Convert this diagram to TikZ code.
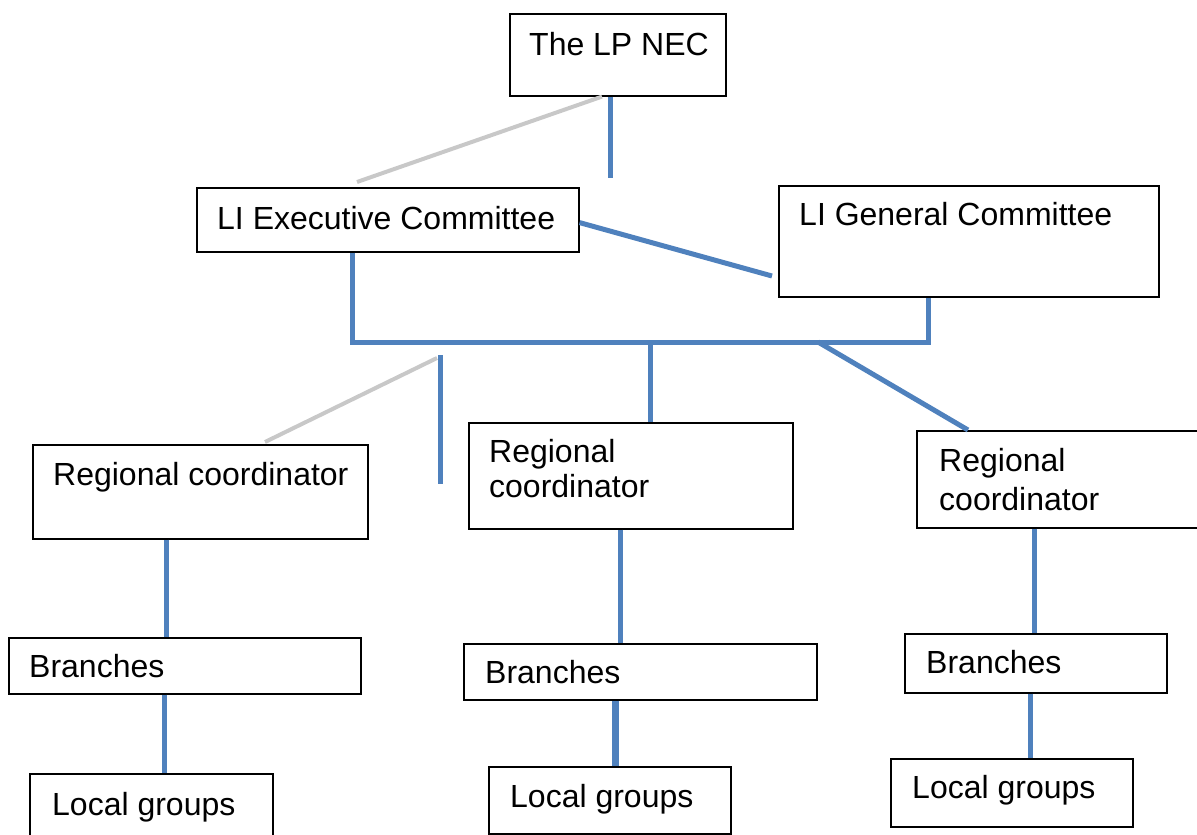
\documentclass[tikz,border=0pt]{standalone}
\usepackage{fontspec}
\setmainfont{Liberation Sans}
\definecolor{linkblue}{HTML}{4F81BD}
\definecolor{ghost}{HTML}{C8C8C8}
\begin{document}
\begin{tikzpicture}[x=1pt,y=-1pt,
  box/.style={draw=black,line width=1.6pt,fill=white,anchor=north west,inner sep=0pt},
  lbl/.style={anchor=base west,inner sep=0pt,font=\fontsize{32}{38}\selectfont},
  conn/.style={draw=linkblue,line width=5pt},
  ghostline/.style={draw=ghost,line width=4pt}]
\useasboundingbox (0,0) rectangle (1197,835);
% boxes
\node[box,minimum width=216pt,minimum height=82pt] (nec) at (509,13) {};
\node[box,minimum width=382pt,minimum height=64pt] (exec) at (196,187) {};
\node[box,minimum width=380pt,minimum height=111pt] (gen) at (778,185) {};
\node[box,minimum width=335pt,minimum height=94pt] (regL) at (32,444) {};
\node[box,minimum width=324pt,minimum height=106pt] (regM) at (468,422) {};
\node[box,minimum width=282pt,minimum height=97pt] (regR) at (916,430) {};
\node[box,minimum width=352pt,minimum height=56pt] (brL) at (8,637) {};
\node[box,minimum width=353pt,minimum height=56pt] (brM) at (463,643) {};
\node[box,minimum width=262pt,minimum height=59pt] (brR) at (904,633) {};
\node[box,minimum width=243pt,minimum height=72pt] (locL) at (29,773) {};
\node[box,minimum width=242pt,minimum height=67pt] (locM) at (488,766) {};
\node[box,minimum width=242pt,minimum height=68pt] (locR) at (890,758) {};
% texts
\node[lbl] (tnec) at (529,55) {The LP NEC};
\node[lbl] (texec) at (217,229) {LI Executive Committee};
\node[lbl] (tgen) at (799,225) {LI General Committee};
\node[lbl] (tregL) at (53,485) {Regional coordinator};
\node[lbl] (tregMa) at (489,462) {Regional};
\node[lbl] (tregMb) at (489,497) {coordinator};
\node[lbl] (tregRa) at (939,471) {Regional};
\node[lbl] (tregRb) at (939,510) {coordinator};
\node[lbl] (tbrL) at (29,677) {Branches};
\node[lbl] (tbrM) at (485,683) {Branches};
\node[lbl] (tbrR) at (926,673) {Branches};
\node[lbl] (tlocL) at (52,815) {Local groups};
\node[lbl] (tlocM) at (510,807) {Local groups};
\node[lbl] (tlocR) at (912,798) {Local groups};
% free ends
\coordinate (necEnd) at (610,178);
\coordinate (ghostA) at (357,182);
\coordinate (genLeft) at (772,276);
\coordinate (busL) at (352,342);
\coordinate (busR) at (928,342);
\coordinate (busM) at (650,342);
\coordinate (busD) at (818,342);
\coordinate (freeTop) at (440,355);
\coordinate (freeBot) at (440,484);
\coordinate (ghostB1) at (437,358);
\coordinate (ghostB2) at (265,442);
% grey lines
\draw[ghostline] ([xshift=93pt]nec.south west) -- (ghostA);
\draw[ghostline] (ghostB1) -- (ghostB2);
% blue connectors
\draw[conn] ([xshift=101pt]nec.south west) -- (necEnd);
\draw[conn] ([yshift=30pt]exec.south east) -- (genLeft);
\draw[conn,line join=miter] ([xshift=156pt]exec.south west) -- (busL) -- (busR) -- ([xshift=150pt]gen.south west);
\draw[conn] (busM) -- ([xshift=182pt]regM.north west);
\draw[conn] (busD) -- ([xshift=52pt]regR.north west);
\draw[conn] (freeTop) -- (freeBot);
\draw[conn] ([xshift=134pt]regL.south west) -- ([xshift=158pt]brL.north west);
\draw[conn] ([xshift=156pt]brL.south west) -- ([xshift=135pt]locL.north west);
\draw[conn] ([xshift=152pt]regM.south west) -- ([xshift=157pt]brM.north west);
\draw[conn,line width=7pt] ([xshift=152pt]brM.south west) -- ([xshift=127pt]locM.north west);
\draw[conn] ([xshift=118pt]regR.south west) -- ([xshift=130pt]brR.north west);
\draw[conn] ([xshift=126pt]brR.south west) -- ([xshift=140pt]locR.north west);
\end{tikzpicture}
\end{document}
